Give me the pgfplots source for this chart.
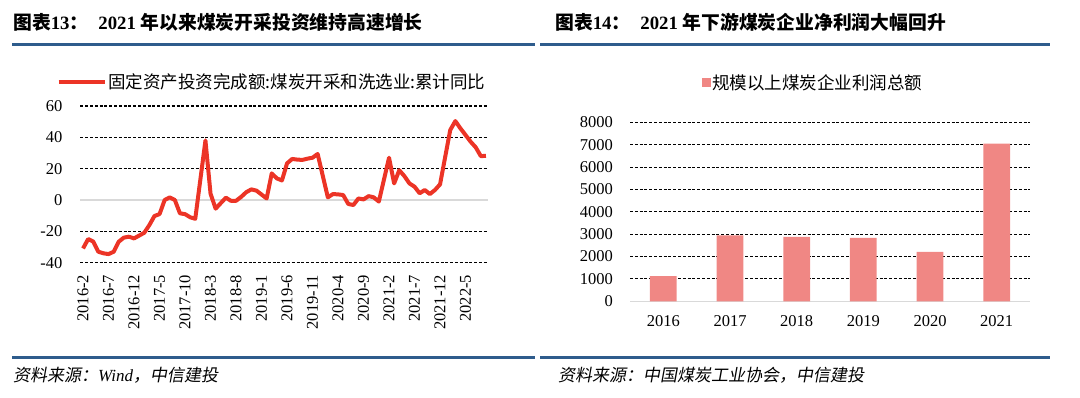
\documentclass[border=0pt]{standalone}
\usepackage{fontspec}
\usepackage{pgfplots}
\usepackage{pgfplotstable}
\pgfplotsset{compat=1.18}
\setmainfont{Liberation Serif}
\newfontfamily\cjk{Noto Sans CJK SC}
\newfontfamily\cjkit[FakeSlant=0.18]{Noto Sans CJK SC}
\definecolor{linered}{RGB}{236,52,38}
\definecolor{barpink}{RGB}{240,135,132}
\definecolor{hdrblue}{RGB}{46,92,140}
\newcommand\TB[1]{{\cjk\bfseries #1}}

\pgfplotstableread{
x y
0 -30.9
1 -24.9
2 -26.5
3 -33
4 -34
5 -34.5
6 -33
7 -26.6
8 -24
9 -23.4
10 -24.5
12 -20.9
13 -16
14 -10.2
15 -9
16 0
17 1.7
18 0
19 -8.5
20 -9
21 -11
22 -12
24 38
25 4
26 -5.5
27 -2
28 1.5
29 -0.5
30 -0.5
31 2
32 5
33 6.8
34 6
36 1
37 17
38 13.8
39 12.5
40 23.4
41 26.2
42 25.8
43 25.6
44 26.4
45 27
46 29.4
48 1.7
49 3.8
50 3.6
51 3.2
52 -2.5
53 -3.2
54 1
55 0.4
56 2.5
57 1.7
58 -1
60 27
61 10.6
62 19
63 15.3
64 10.6
65 8.5
66 4.3
67 6.4
68 3.8
69 6.4
70 10
72 44.7
73 50.4
74 45.7
75 41.5
76 37.2
77 33.6
78 28
79 28.2
}\invdata

\pgfplotstableread{
x y
0 1130
1 2950
2 2880
3 2830
4 2210
5 7050
}\profitdata

\begin{document}
\begin{tikzpicture}
\useasboundingbox (0pt,0pt) rectangle (1080pt,397pt);
% titles
\node[anchor=west,inner sep=0pt] at (13pt,375pt) {\fontsize{18.8}{21}\selectfont\TB{图表}\textbf{13}\TB{：}\hspace{10pt}\textbf{2021 }\TB{年以来煤炭开采投资维持高速增长}};
\node[anchor=west,inner sep=0pt] at (555pt,375pt) {\fontsize{18.8}{21}\selectfont\TB{图表}\textbf{14}\TB{：}\hspace{10pt}\textbf{2021 }\TB{年下游煤炭企业净利润大幅回升}};
\fill[hdrblue] (12pt,351pt) rectangle (535pt,354pt);
\fill[hdrblue] (540pt,351pt) rectangle (1050pt,354pt);
\fill[hdrblue] (12pt,38.5pt) rectangle (535pt,41.5pt);
\fill[hdrblue] (540pt,38.5pt) rectangle (1050pt,41.5pt);
% sources
\node[anchor=west,inner sep=0pt] at (13pt,22pt) {\fontsize{17}{19}\selectfont\cjkit 资料来源：{\rmfamily\itshape Wind}，中信建投};
\node[anchor=west,inner sep=0pt] at (558pt,22pt) {\fontsize{17}{19}\selectfont\cjkit 资料来源：中国煤炭工业协会，中信建投};

% left chart
\begin{axis}[
  at={(80.5pt,134.3pt)}, anchor=south west,
  scale only axis, width=408pt, height=156.7pt,
  xmin=-0.5, xmax=79.5, ymin=-40, ymax=60,
  axis line style={draw=none},
  major tick length=0pt,
  ytick={-40,-20,20,40,60},
  extra y ticks={0},
  extra y tick style={grid style={draw=black!15, solid, line width=1.2pt}},
  ymajorgrids,
  grid style={draw=black, line width=1.1pt, dash pattern=on 3pt off 1.8pt},
  xtick={0,5,...,75},
  xticklabels={2016-2,2016-7,2016-12,2017-5,2017-10,2018-3,2018-8,2019-1,2019-6,2019-11,2020-4,2020-9,2021-2,2021-7,2021-12,2022-5},
  /pgf/number format/assume math mode=true,
  tick label style={font=\fontsize{16.5}{18}\selectfont},
  yticklabel style={anchor=east, inner sep=0pt, xshift=-18pt},
  xticklabel style={yshift=-12pt, rotate=90, anchor=east, inner sep=0pt},
  legend style={at={(axis description cs:-0.0588,1.1532)}, anchor=west, draw=none, fill=none, inner sep=0pt, nodes={inner sep=1.5pt}, font=\cjk\fontsize{17.5}{19}\selectfont},
  legend image code/.code={\draw[#1, line width=4pt] (0pt,0pt) -- (46pt,0pt);},
]
\addplot[linered, line width=4pt, line join=round] table[x=x,y=y] {\invdata};
\addlegendentry{固定资产投资完成额:煤炭开采和洗选业:累计同比}
\end{axis}

% right chart
\begin{axis}[
  at={(630pt,95.7pt)}, anchor=south west,
  scale only axis, width=400pt, height=179pt,
  xmin=-0.5, xmax=5.5, ymin=0, ymax=8000,
  axis line style={draw=none},
  major tick length=0pt,
  ytick={1000,2000,...,8000},
  extra y ticks={0},
  extra y tick style={grid style={draw=black!15, solid, line width=1.5pt}},
  ymajorgrids,
  grid style={draw=black, line width=1.1pt, dash pattern=on 3pt off 1.8pt},
  scaled y ticks=false,
  /pgf/number format/1000 sep={},
  /pgf/number format/assume math mode=true,
  xtick={0,...,5},
  xticklabels={2016,2017,2018,2019,2020,2021},
  tick label style={font=\fontsize{16.5}{18}\selectfont},
  yticklabel style={anchor=east, inner sep=0pt, xshift=-17pt},
  xticklabel style={anchor=north, inner sep=0pt, yshift=-14pt},
  legend style={at={(axis description cs:0.1788,1.222)}, anchor=west, draw=none, fill=none, inner sep=0pt, nodes={inner sep=1.5pt}, font=\cjk\fontsize{17.5}{19}\selectfont},
  legend image code/.code={\fill[#1] (0pt,-4.5pt) rectangle (9pt,4.5pt);},
]
\addplot[ybar, bar width=26.7pt, fill=barpink, draw=none] table[x=x,y=y] {\profitdata};
\addlegendentry{规模以上煤炭企业利润总额}
\end{axis}
\end{tikzpicture}
\end{document}
